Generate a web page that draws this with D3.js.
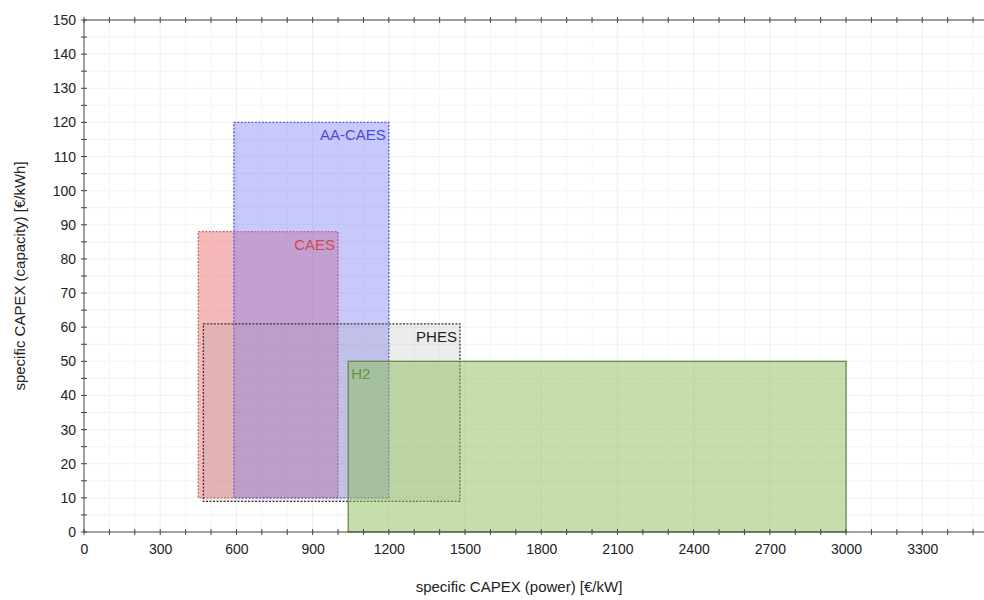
<!DOCTYPE html>
<html>
<head>
<meta charset="utf-8">
<script src="https://cdn.jsdelivr.net/npm/d3@7"></script>
<style>
  body { margin: 0; background: #fff; }
  svg { font-family: "Liberation Sans", Arial, sans-serif; }
</style>
</head>
<body>
<div id="chart"></div>
<script>
// technologies, drawn in this order
let techs = ["CAES", "AA-CAES", "PHES", "H2"];
// specific CAPEX (power) range [€/kW]
let powerMin = [450, 590, 470, 1040];
let powerMax = [1000, 1200, 1480, 3000];
// specific CAPEX (capacity) range [€/kWh]
let capMin = [10, 10, 9, 0];
let capMax = [88, 120, 61, 50];

let xTicks = [0, 300, 600, 900, 1200, 1500, 1800, 2100, 2400, 2700, 3000, 3300];
let yTicks = d3.range(0, 151, 10);

let fills = ["rgba(235,100,100,0.45)", "rgba(125,125,245,0.42)", "rgba(160,160,160,0.2)", "rgba(140,190,90,0.5)"];
let strokes = ["#d06060", "#5a5ad8", "#333333", "#6a8a50"];
let labelColors = ["#d04a4a", "#4a4ad8", "#222222", "#5a9a3a"];

let W = 984, H = 600;
let mLeft = 84, mRight = 984, mTop = 20, mBottom = 532;

let svg = d3.select('#chart').append('svg')
	.attr('width', W)
	.attr('height', H);

let x = d3.scaleLinear().domain([0, 3543]).range([mLeft, mRight]);
let y = d3.scaleLinear().domain([0, 150]).range([mBottom, mTop]);

// very faint grid
svg.append('g').selectAll('line')
	.data(d3.range(5, 151, 5))
	.enter().append('line')
	.attr('x1', mLeft).attr('x2', mRight)
	.attr('y1', d => y(d)).attr('y2', d => y(d))
	.attr('stroke', '#f2f2f2').attr('stroke-width', 1);

svg.append('g').selectAll('line')
	.data(d3.range(100, 3501, 100))
	.enter().append('line')
	.attr('y1', mTop).attr('y2', mBottom)
	.attr('x1', d => x(d)).attr('x2', d => x(d))
	.attr('stroke', d => d % 300 === 0 ? '#efefef' : '#f6f6f6').attr('stroke-width', 1);

// boxes
svg.append('g').selectAll('rect')
	.data(techs)
	.enter().append('rect')
	.attr('x', (d, i) => x(powerMin[i]))
	.attr('y', (d, i) => y(capMax[i]))
	.attr('width', (d, i) => x(powerMax[i]) - x(powerMin[i]))
	.attr('height', (d, i) => y(capMin[i]) - y(capMax[i]))
	.attr('fill', (d, i) => fills[i])
	.attr('stroke', (d, i) => strokes[i])
	.attr('stroke-width', 1.3)
	.attr('stroke-dasharray', (d, i) => i === 3 ? null : '2,1.5');

// labels
svg.append('g').selectAll('text')
	.data(techs)
	.enter().append('text')
	.attr('x', (d, i) => i === 3 ? x(powerMin[i]) + 3 : x(powerMax[i]) - 3)
	.attr('y', (d, i) => y(capMax[i]) + 18)
	.attr('text-anchor', (d, i) => i === 3 ? 'start' : 'end')
	.attr('fill', (d, i) => labelColors[i])
	.style('font-size', '15px')
	.text(d => d);

// axes
let xAxis = d3.axisBottom(x).tickValues(xTicks).tickFormat(d3.format('d')).tickSize(0).tickPadding(12);
let yAxis = d3.axisLeft(y).tickValues(yTicks).tickFormat(d3.format('d')).tickSize(0).tickPadding(8);

let gx = svg.append('g')
	.attr('transform', 'translate(0,' + mBottom + ')')
	.call(xAxis);
gx.select('.domain').remove();
gx.selectAll('text').style('font-size', '14px').attr('fill', '#222');

let gy = svg.append('g')
	.attr('transform', 'translate(' + mLeft + ',0)')
	.call(yAxis);
gy.select('.domain').remove();
gy.selectAll('text').style('font-size', '14px').attr('fill', '#222');

// axis lines and tick marks
svg.append('line').attr('x1', mLeft).attr('x2', mRight).attr('y1', mBottom).attr('y2', mBottom).attr('stroke', '#444');
svg.append('line').attr('x1', mLeft).attr('x2', mRight).attr('y1', mTop).attr('y2', mTop).attr('stroke', '#444');
svg.append('line').attr('x1', mLeft).attr('x2', mLeft).attr('y1', mTop).attr('y2', mBottom).attr('stroke', '#444');

let xMinor = d3.range(0, 3501, 100);
[mBottom, mTop].forEach(function(yy) {
	svg.append('g').selectAll('line')
		.data(xMinor)
		.enter().append('line')
		.attr('x1', d => x(d)).attr('x2', d => x(d))
		.attr('y1', yy - 3).attr('y2', yy + 3)
		.attr('stroke', '#444');
});
svg.append('g').selectAll('line')
	.data(d3.range(0, 151, 5))
	.enter().append('line')
	.attr('x1', mLeft - 3).attr('x2', mLeft + 3)
	.attr('y1', d => y(d)).attr('y2', d => y(d))
	.attr('stroke', '#444');

// axis titles
svg.append('text')
	.attr('x', (mLeft + mRight) / 2 - 15)
	.attr('y', 592)
	.attr('text-anchor', 'middle')
	.attr('fill', '#222')
	.style('font-size', '15px')
	.text('specific CAPEX (power) [€/kW]');

svg.append('text')
	.attr('transform', 'translate(25,' + ((mTop + mBottom) / 2) + ') rotate(-90)')
	.attr('text-anchor', 'middle')
	.attr('fill', '#222')
	.style('font-size', '15px')
	.text('specific CAPEX (capacity) [€/kWh]');
</script>
</body>
</html>
